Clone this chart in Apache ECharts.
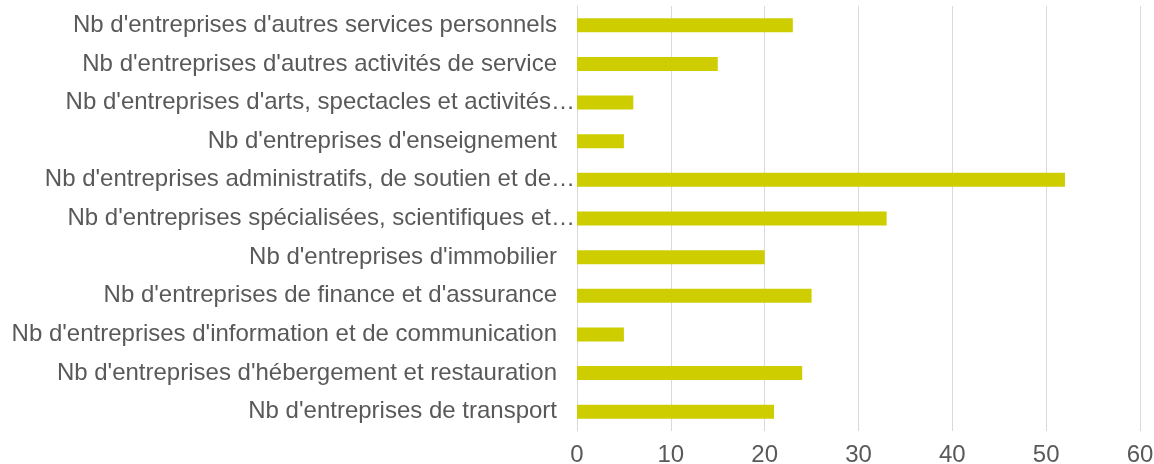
<!DOCTYPE html>
<html>
<head>
<meta charset="utf-8">
<script src="https://cdn.jsdelivr.net/npm/echarts@6/dist/echarts.min.js"></script>
<style>
  html, body { margin: 0; padding: 0; background: #fff; }
  #chart { width: 1154px; height: 464px; }
</style>
</head>
<body>
<div id="chart"></div>
<script>
// catégories, du bas vers le haut (ordre de l'axe)
let categories = [
    "Nb d'entreprises de transport",
    "Nb d'entreprises d'hébergement et restauration",
    "Nb d'entreprises d'information et de communication",
    "Nb d'entreprises de finance et d'assurance",
    "Nb d'entreprises d'immobilier",
    "Nb d'entreprises spécialisées, scientifiques et…",
    "Nb d'entreprises administratifs, de soutien et de…",
    "Nb d'entreprises d'enseignement",
    "Nb d'entreprises d'arts, spectacles et activités…",
    "Nb d'entreprises d'autres activités de service",
    "Nb d'entreprises d'autres services personnels"
]
let values = [21, 24, 5, 25, 20, 33, 52, 5, 6, 15, 23]
let xTicks = [0, 10, 20, 30, 40, 50, 60]

// les libellés tronqués vont jusqu'à l'axe, les autres s'arrêtent un peu avant
let yData = categories.map(function (c) {
    if (c.endsWith('…')) {
        return c
    }
    return { value: c, textStyle: { padding: [0, 18, 0, 0] } }
})

let myChart = echarts.init(document.getElementById('chart'))
let option = {
    animation: false,
    grid: { left: 577, right: 14, top: 6, bottom: 33, containLabel: false, outerBoundsMode: 'none' },
    xAxis: {
        type: 'value',
        min: xTicks[0],
        max: xTicks[xTicks.length - 1],
        interval: 10,
        axisLine: { show: false },
        axisTick: { show: false },
        axisLabel: { color: '#595959', fontSize: 24, fontFamily: 'Liberation Sans, Arial', margin: 12 },
        splitLine: { lineStyle: { color: '#d9d9d9', width: 1 } }
    },
    yAxis: {
        type: 'category',
        data: yData,
        axisLine: { show: true, lineStyle: { color: '#d9d9d9' } },
        axisTick: { show: false },
        axisLabel: { color: '#595959', fontSize: 24, fontFamily: 'Liberation Sans, Arial', margin: 2 }
    },
    series: [{
        type: 'bar',
        data: values,
        barWidth: 14,
        itemStyle: { color: '#cdcd00' }
    }]
}
myChart.setOption(option)
</script>
</body>
</html>
